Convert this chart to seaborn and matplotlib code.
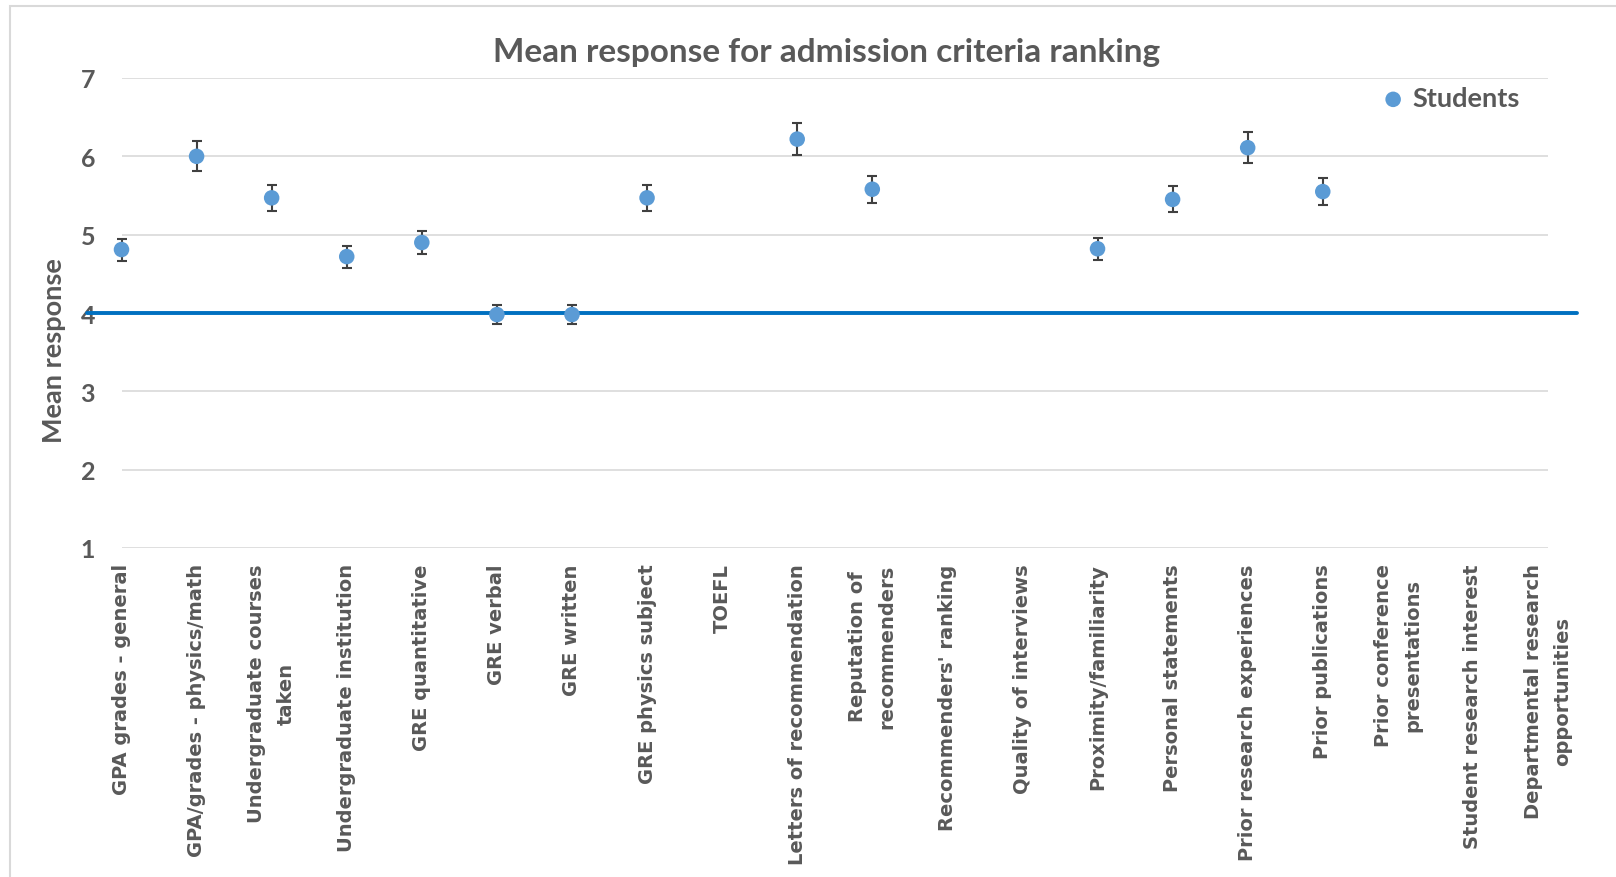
import matplotlib
matplotlib.use("Agg")
import matplotlib.pyplot as plt
import numpy as np
import pandas as pd
import seaborn as sns
from matplotlib.patches import Rectangle

# Data (NaN = no response plotted)
criteria = [
    "GPA grades - general",
    "GPA/grades - physics/math",
    "Undergraduate courses\ntaken",
    "Undergraduate institution",
    "GRE quantitative",
    "GRE verbal",
    "GRE written",
    "GRE physics subject",
    "TOEFL",
    "Letters of recommendation",
    "Reputation of\nrecommenders",
    "Recommenders' ranking",
    "Quality of interviews",
    "Proximity/familiarity",
    "Personal statements",
    "Prior research experiences",
    "Prior publications",
    "Prior conference\npresentations",
    "Student research interest",
    "Departmental research\nopportunities",
]
mean_resp = [4.81, 6.00, 5.47, 4.72, 4.90, 3.98, 3.98, 5.47, np.nan, 6.22,
             5.58, np.nan, np.nan, 4.82, 5.45, 6.11, 5.55, np.nan, np.nan, np.nan]
err_resp = [0.14, 0.19, 0.165, 0.14, 0.145, 0.12, 0.12, 0.165, np.nan, 0.2,
            0.17, np.nan, np.nan, 0.14, 0.165, 0.2, 0.175, np.nan, np.nan, np.nan]
neutral_line = 4.0

df = pd.DataFrame({"criterion": criteria, "mean": mean_resp, "err": err_resp})
df["pos"] = np.arange(len(df))

sns.set_theme(style="white")
plt.rcParams["font.family"] = ["DejaVu Sans"]

W, H = 1616, 878
fig = plt.figure(figsize=(W / 100, H / 100), dpi=100)
ax = fig.add_axes([121.5 / W, 1 - 549 / H, (1548 - 121.5) / W, (549 - 79) / H])

grey = "#595959"

# chart border
fig.patches.append(Rectangle((10 / W, -0.1), 1.2, 1 - 7 / H + 0.1,
                             transform=fig.transFigure, fill=False,
                             edgecolor="#D9D9D9", linewidth=1.5))

ax.errorbar(df["pos"], df["mean"], yerr=df["err"], fmt="none",
            ecolor="#404040", elinewidth=1.5, capsize=3.5, capthick=1.5,
            zorder=3, clip_on=False)
sns.scatterplot(data=df, x="pos", y="mean", ax=ax, color="#5B9BD5", s=125,
                edgecolor="none", label="Students", zorder=4, clip_on=False)

ax.axhline(neutral_line, xmin=(87 - 121.5) / 1426.5, xmax=(1577 - 121.5) / 1426.5,
           color="#0070C0", linewidth=2.8, clip_on=False, zorder=2)

ax.set_xlim(0, len(df) - 1)
ax.set_ylim(1, 7)
ax.set_yticks(range(1, 8))
ax.yaxis.grid(True, color="#D9D9D9", linewidth=1.2)
ax.set_axisbelow(True)
for s in ax.spines.values():
    s.set_visible(False)

ax.set_xticks(df["pos"])
ax.set_xticklabels(df["criterion"], rotation=90, fontsize=14, fontweight="bold",
                   color=grey, linespacing=1.7, multialignment="center")
ax.tick_params(axis="x", length=0, pad=11)
ax.tick_params(axis="y", length=0, pad=19)
for t in ax.get_yticklabels():
    t.set_family("Lato")
    t.set_fontsize(18)
    t.set_fontweight("bold")
    t.set_color(grey)

ax.set_xlabel("")
ax.set_ylabel("Mean response", family="Lato", fontsize=19.5, fontweight="bold", color=grey)
ax.yaxis.set_label_coords(-0.039, 0.423)

ax.set_title("Mean response for admission criteria ranking", family="Lato",
             fontsize=24, fontweight="bold", color=grey, pad=12, x=0.494)

leg = ax.legend(loc="upper right", bbox_to_anchor=(0.98, 0.982), frameon=False,
                borderpad=0, borderaxespad=0, handletextpad=0.3, handlelength=0.8,
                prop={"family": "Lato", "size": 19.5, "weight": "bold"})
for t in leg.get_texts():
    t.set_color(grey)

fig.savefig("out.png", dpi=100, facecolor="white")
